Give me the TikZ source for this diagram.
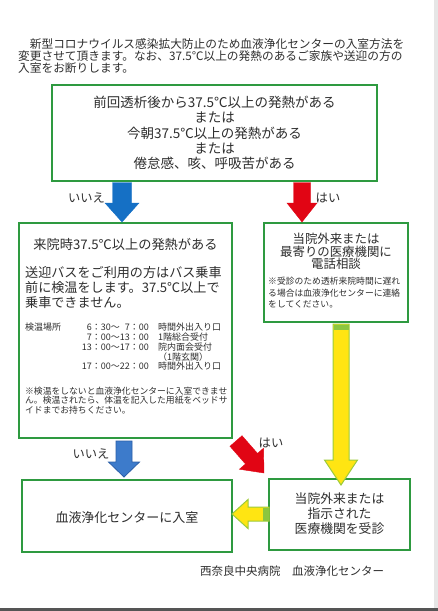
\documentclass[tikz,border=0pt]{standalone}
\usepackage{fontspec}
\setmainfont{Noto Sans CJK JP}
\usetikzlibrary{calc}
\definecolor{boxgreen}{HTML}{2E9A40}
\definecolor{txtgray}{HTML}{2E2E2E}
\definecolor{blueA}{HTML}{1570C5}
\definecolor{blueB}{HTML}{3D7BCB}
\definecolor{blueBline}{HTML}{2B5FA8}
\definecolor{redA}{HTML}{E10514}
\definecolor{yellowA}{HTML}{FFE512}
\definecolor{yellowline}{HTML}{9CCB3B}
\definecolor{capgreen}{HTML}{8CC63F}
\definecolor{edgegray}{HTML}{E6E6E6}
\definecolor{bottomgray}{HTML}{555555}
\newcommand\fs[1]{\fontsize{#1}{#1}\selectfont}
\newcommand\blockarrow[6]{%
  \coordinate (ba-h) at ($(#2)!#5!(#1)$);
  \draw[#6] ($(#1)!#3!90:(#2)$) -- ($(ba-h)!#3!90:(#2)$) -- ($(ba-h)!#4!90:(#2)$) -- (#2)
    -- ($(ba-h)!#4!-90:(#2)$) -- ($(ba-h)!#3!-90:(#2)$) -- ($(#1)!#3!-90:(#2)$) -- cycle;
}
\begin{document}
\begin{tikzpicture}[x=1pt,y=-1pt,
  box/.style={draw=boxgreen,line width=1.7pt,fill=white,inner sep=0pt},
  tx/.style={inner sep=0pt,text=txtgray,anchor=base},
  txl/.style={tx,anchor=base west},
  txr/.style={tx,anchor=base east},
  lbl/.style={tx,font=\fs{12.3}},
  blueone/.style={fill=blueA,draw=blueA,line width=0.4pt},
  bluetwo/.style={fill=blueB,draw=blueBline,line width=0.8pt},
  redarr/.style={fill=redA,draw=redA,line width=0.4pt},
  yelarr/.style={fill=yellowA,draw=yellowline,line width=1pt}]
\useasboundingbox (0,0) rectangle (438,611);
\fill[white] (0,0) rectangle (438,611);
\fill[edgegray] (434,0) rectangle (438,611);
\fill[bottomgray] (0,608) rectangle (438,611);

% intro text
\node[txl,font=\fs{11.7}] (i1) at (18,48.8) {　新型コロナウイルス感染拡大防止のため血液浄化センターの入室方法を};
\node[txl,font=\fs{11.7}] (i2) at (18,60.8) {変更させて頂きます。なお、37.5℃以上の発熱のあるご家族や送迎の方の};
\node[txl,font=\fs{11.7}] (i3) at (18,72.8) {入室をお断りします。};

% boxes
\node[box,minimum width=325pt,minimum height=96pt] (top) at (214.5,133) {};
\node[box,minimum width=213pt,minimum height=215pt] (left) at (125.5,330.5) {};
\node[box,minimum width=144pt,minimum height=99pt] (right) at (336,272.5) {};
\node[box,minimum width=210pt,minimum height=72pt] (enter) at (127,516) {};
\node[box,minimum width=141pt,minimum height=71pt] (visit) at (339.5,514.5) {};

% top box text
\node[tx,font=\fs{13.5}] (t1) at (214.5,107.6) {前回透析後から37.5℃以上の発熱がある};
\node[tx,font=\fs{13.5}] (t2) at (214.5,122.8) {または};
\node[tx,font=\fs{13.5}] (t3) at (214.5,138.0) {今朝37.5℃以上の発熱がある};
\node[tx,font=\fs{13.5}] (t4) at (214.5,153.2) {または};
\node[tx,font=\fs{13.5}] (t5) at (214.5,168.4) {倦怠感、咳、呼吸苦がある};

% left box text
\node[tx,font=\fs{13.2}] (l0) at (125.5,249) {来院時37.5℃以上の発熱がある};
\node[txl,font=\fs{13.1}] (l1) at (25,277) {送迎バスをご利用の方はバス乗車};
\node[txl,font=\fs{13.1}] (l2) at (25,292) {前に検温をします。37.5℃以上で};
\node[txl,font=\fs{13.1}] (l3) at (25,307) {乗車できません。};
\node[txl,font=\fs{9}] (s0) at (25,330.9) {検温場所};
\node[txr,font=\fs{9}] (s1t) at (149,330.9) {6：30～\phantom{1}7：00};
\node[txr,font=\fs{9}] (s2t) at (149,340.9) {7：00～13：00};
\node[txr,font=\fs{9}] (s3t) at (149,350.9) {13：00～17：00};
\node[txr,font=\fs{9}] (s5t) at (149,369.9) {17：00～22：00};
\node[txl,font=\fs{9}] (s1p) at (158,330.9) {時間外出入り口};
\node[txl,font=\fs{9}] (s2p) at (158,340.9) {1階総合受付};
\node[txl,font=\fs{9}] (s3p) at (158,350.9) {院内面会受付};
\node[txl,font=\fs{9}] (s4p) at (158,360.2) {（1階玄関）};
\node[txl,font=\fs{9}] (s5p) at (158,369.9) {時間外出入り口};
\node[txl,font=\fs{8.8}] (n1) at (25,394.3) {※検温をしないと血液浄化センターに入室できませ};
\node[txl,font=\fs{8.8}] (n2) at (25,403.8) {ん。検温されたら、体温を記入した用紙をベッドサ};
\node[txl,font=\fs{8.8}] (n3) at (25,413.3) {イドまでお持ちください。};

% right box text
\node[tx,font=\fs{12.4}] (r1) at (336,243.2) {当院外来または};
\node[tx,font=\fs{12.4}] (r2) at (336,256.2) {最寄りの医療機関に};
\node[tx,font=\fs{12.4}] (r3) at (336,268.7) {電話相談};
\node[txl,font=\fs{8.8}] (rn1) at (268,284.3) {※受診のため透析来院時間に遅れ};
\node[txl,font=\fs{8.8}] (rn2) at (268,296) {る場合は血液浄化センターに連絡};
\node[txl,font=\fs{8.8}] (rn3) at (268,307.6) {をしてください。};

% bottom boxes text
\node[tx,font=\fs{13}] (e1) at (127,522) {血液浄化センターに入室};
\node[tx,font=\fs{12.8}] (v1) at (339.5,503.9) {当院外来または};
\node[tx,font=\fs{12.8}] (v2) at (339.5,518.9) {指示された};
\node[tx,font=\fs{12.8}] (v3) at (339.5,533.9) {医療機関を受診};

% footer
\node[txl,font=\fs{11.5}] (foot) at (200,575.4) {西奈良中央病院　血液浄化センター};

% arrows
\coordinate (a1s) at (122,182.5);
\coordinate (a1e) at (122,222);
\blockarrow{a1s}{a1e}{9.5pt}{17pt}{19pt}{blueone}
\coordinate (a2s) at (302,182.5);
\coordinate (a2e) at (302,222);
\blockarrow{a2s}{a2e}{8.5pt}{15pt}{19pt}{redarr}
\coordinate (a3s) at (124,441);
\coordinate (a3e) at (124,477);
\blockarrow{a3s}{a3e}{8pt}{15.5pt}{15pt}{bluetwo}
\coordinate (a4s) at (236,441);
\coordinate (a4e) at (264,473);
\blockarrow{a4s}{a4e}{8pt}{16pt}{19pt}{redarr}
\coordinate (a5s) at (341,324);
\coordinate (a5e) at (341,485);
\blockarrow{a5s}{a5e}{8pt}{16.5pt}{25pt}{yelarr}
\fill[capgreen] (333.5,324.5) rectangle (348.5,330);
\coordinate (a6s) at (269,514);
\coordinate (a6e) at (232,514);
\blockarrow{a6s}{a6e}{7pt}{14.5pt}{16pt}{yelarr}
\fill[capgreen] (263,507.5) rectangle (268.5,520.5);

% labels
\node[lbl] (no1) at (86.5,202.7) {いいえ};
\node[lbl] (yes1) at (328,202.7) {はい};
\node[lbl] (no2) at (91,458.7) {いいえ};
\node[lbl] (yes2) at (271,447.7) {はい};
\end{tikzpicture}
\end{document}
